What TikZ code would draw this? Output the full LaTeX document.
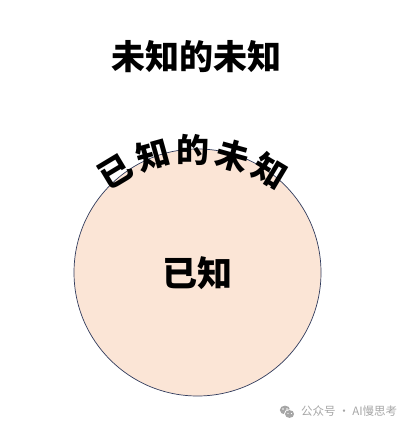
\documentclass[tikz,border=0pt]{standalone}
\usepackage{fontspec}
\usetikzlibrary{calc}
\newfontfamily\cjk{Noto Sans CJK SC}
\definecolor{peach}{HTML}{FBE5D6}
\definecolor{rimcol}{HTML}{2F3A5C}
\definecolor{wmgrey}{HTML}{A6A6A6}
\begin{document}
\begin{tikzpicture}[x=1pt,y=1pt,
  bigtxt/.style={inner sep=0pt, font=\cjk\bfseries\fontsize{34}{34}\selectfont},
  arctxt/.style={inner sep=-3pt, font=\cjk\bfseries\fontsize{33}{33}\selectfont},
  midtxt/.style={inner sep=0pt, font=\cjk\bfseries\fontsize{35}{35}\selectfont},
  wmtxt/.style={inner sep=0pt, text=wmgrey, font=\cjk\fontsize{11.5}{11.5}\selectfont}]
\useasboundingbox (0,0) rectangle (412,427);
% circle
\node[circle, draw=rimcol, line width=0.7pt, fill=peach, minimum size=247pt, inner sep=0pt] (circ) at (197.5,154.5) {};
\node[midtxt] (known) at (197,154) {已知};
% top text
\node[bigtxt] (unk) at (196,370) {未知的未知};
% curved text
\coordinate (arcc) at (193,127);
\foreach \ch/\a [count=\i] in {已/121,知/105.5,的/90,未/74.5,知/59}{
  \node[arctxt, rotate=\a-90] (c\i) at ($(arcc)+(\a:150)$) {\ch};
}
% watermark
\begin{scope}[wmgrey]
  \fill (285,17) ellipse (5.2pt and 4.4pt);
  \fill[white] (289.5,13) ellipse (5.6pt and 4.8pt);
  \fill (289.5,13) ellipse (4.6pt and 3.9pt);
  \fill[white] (283,18) circle (0.8pt) (287,18) circle (0.8pt);
  \fill[white] (288,13.5) circle (0.7pt) (291.5,13.5) circle (0.7pt);
\end{scope}
\node[wmtxt, anchor=west] (wm) at (301,16) {公众号 · AI慢思考};
\end{tikzpicture}
\end{document}
